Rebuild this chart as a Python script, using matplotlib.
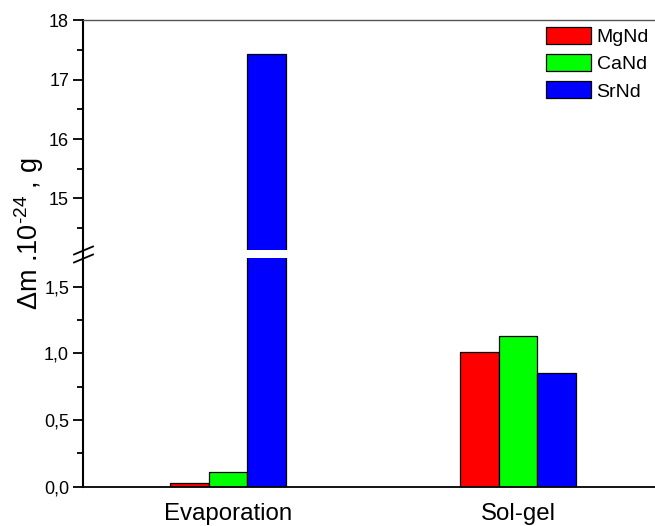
import numpy as np
import matplotlib.pyplot as plt
from matplotlib.lines import Line2D
from matplotlib.ticker import MultipleLocator, FuncFormatter

plt.rcParams["font.family"] = ["Liberation Sans", "DejaVu Sans"]
plt.rcParams["mathtext.fontset"] = "custom"
plt.rcParams["mathtext.rm"] = "Liberation Sans"
plt.rcParams["mathtext.it"] = "Liberation Sans:italic"

methods = ["Evaporation", "Sol-gel"]
series = ["MgNd", "CaNd", "SrNd"]
mgnd = [0.03, 1.01]
cand = [0.11, 1.13]
srnd = [17.44, 0.85]
colors = ["#ff0000", "#00ff00", "#0000ff"]

W, H = 655, 526


def comma(v, pos):
    return ("%.1f" % v).replace(".", ",")


def style_y(ax):
    ax.tick_params(axis="y", which="major", direction="out", length=7, width=1.3, labelsize=13, pad=3)
    ax.tick_params(axis="y", which="minor", direction="out", length=4, width=1.3)
    ax.spines["left"].set_linewidth(1.5)
    ax.spines["right"].set_visible(False)


def draw_bars(ax):
    x = np.arange(len(methods))
    width = 0.133
    handles = []
    for i, (name, vals) in enumerate(zip(series, [mgnd, cand, srnd])):
        b = ax.bar(x + (i - 1) * width, vals, width, color=colors[i],
                   edgecolor="black", linewidth=0.9, label=name)
        handles.append(b)
    ax.set_xlim(-0.5, 1.5)
    return handles


def main():
    fig = plt.figure(figsize=(W / 100, H / 100), dpi=100)

    left = 83 / W
    width = 580 / W
    ax_lo = fig.add_axes([left, (H - 486.7) / H, width, (486.7 - 258) / H])
    ax_hi = fig.add_axes([left, (H - 250) / H, width, (250 - 20.4) / H])

    handles = draw_bars(ax_lo)
    draw_bars(ax_hi)

    # lower part of the broken axis
    ax_lo.set_ylim(0, 1.715)
    ax_lo.yaxis.set_major_locator(MultipleLocator(0.5))
    ax_lo.yaxis.set_minor_locator(MultipleLocator(0.25))
    ax_lo.yaxis.set_major_formatter(FuncFormatter(comma))
    style_y(ax_lo)
    ax_lo.spines["top"].set_visible(False)
    ax_lo.spines["bottom"].set_linewidth(1.3)
    ax_lo.set_xticks(range(len(methods)))
    ax_lo.set_xticklabels(methods, fontsize=17.3)
    ax_lo.tick_params(axis="x", length=0, pad=12)

    # upper part
    ax_hi.set_ylim(14.13, 18)
    ax_hi.yaxis.set_major_locator(MultipleLocator(1))
    ax_hi.yaxis.set_minor_locator(MultipleLocator(0.5))
    style_y(ax_hi)
    ax_hi.spines["bottom"].set_visible(False)
    ax_hi.spines["top"].set_color("#555555")
    ax_hi.spines["top"].set_linewidth(1.0)
    ax_hi.set_xticks([])

    # spine through the gap and break marks
    tr = fig.transFigure
    fig.add_artist(Line2D([83 / W, 83 / W], [(H - 258) / H, (H - 250) / H],
                          transform=tr, color="black", lw=1.5))
    for yc in (250.5, 258.5):
        fig.add_artist(Line2D([74 / W, 93 / W], [(H - yc - 4) / H, (H - yc + 4) / H],
                              transform=tr, color="black", lw=1.3))

    fig.text(29 / W, 1 - 234 / H, "\u0394m .10$^{\\mathrm{\u2010}24}$ , g", rotation=90,
             ha="center", va="center", fontsize=19.5)

    fig.legend(handles=handles, labels=series, loc="upper left",
               bbox_to_anchor=(546 / W, 1 - 27 / H), frameon=False,
               fontsize=14, handlelength=2.3, handleheight=0.95,
               handletextpad=0.3, labelspacing=0.42, borderpad=0,
               borderaxespad=0)

    fig.savefig("out.png", dpi=100)


if __name__ == "__main__":
    main()
